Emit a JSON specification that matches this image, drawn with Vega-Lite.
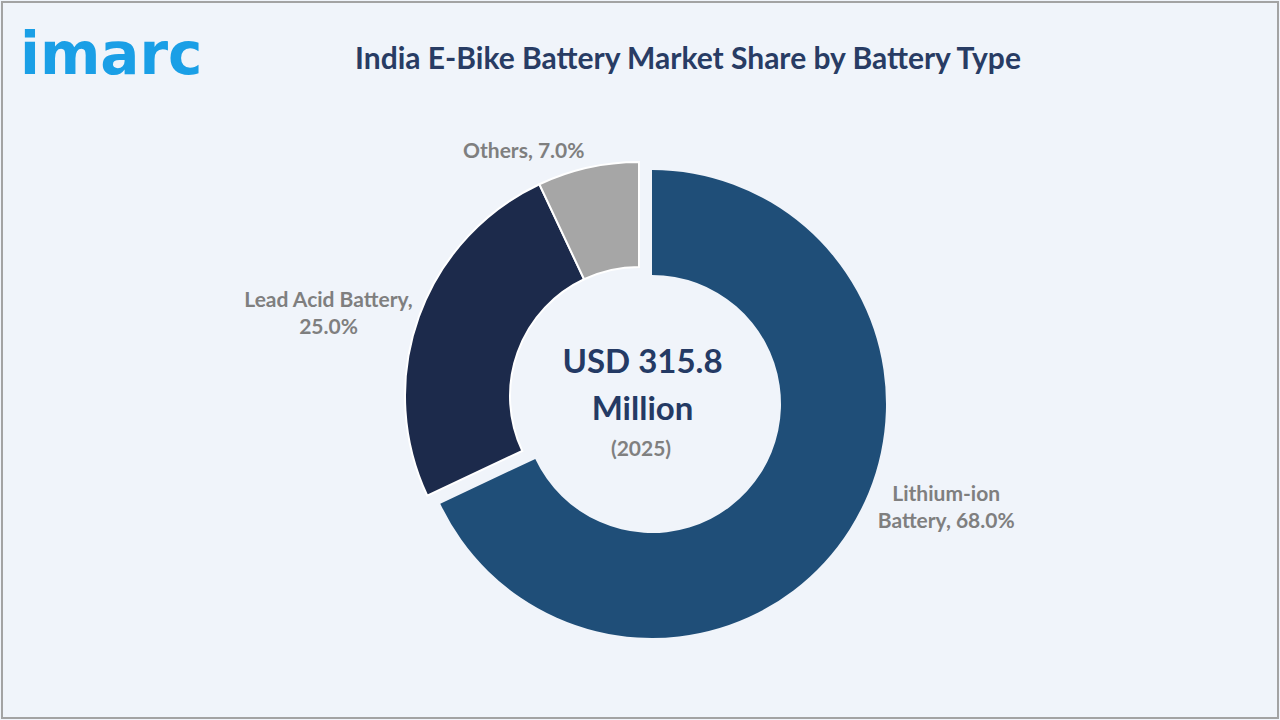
{
  "$schema": "https://vega.github.io/schema/vega-lite/v6.json",
  "width": 1276,
  "height": 716,
  "padding": 2,
  "autosize": {"type": "none"},
  "background": "#f0f4fa",
  "view": {"stroke": "#a3a3a3", "strokeWidth": 2, "fill": "#f0f4fa", "cursor": "default"},
  "config": {
    "style": {"cell": {"stroke": "#a3a3a3", "strokeWidth": 2}},
    "font": "Lato"
  },
  "title": {
    "text": "India E-Bike Battery Market Share by Battery Type",
    "anchor": "middle",
    "dx": 48,
    "dy": 78,
    "fontSize": 30,
    "fontWeight": "bold",
    "color": "#283c64",
    "font": "Lato"
  },
  "data": {
    "values": [
      {"type": "Lithium-ion Battery", "share": 68.0, "label": "Lithium-ion\nBattery, 68.0%"},
      {"type": "Lead Acid Battery", "share": 25.0, "label": "Lead Acid Battery,\n25.0%"},
      {"type": "Others", "share": 7.0, "label": "Others, 7.0%"}
    ]
  },
  "layer": [
    {
      "mark": {"type": "arc", "innerRadius": 129, "outerRadius": 234, "xOffset": -1, "yOffset": 36, "stroke": "#ffffff", "strokeWidth": 2},
      "encoding": {
        "theta": {"field": "share", "type": "quantitative", "stack": true},
        "order": {"field": "share", "sort": "descending"},
        "color": {
          "field": "type", "type": "nominal", "legend": null,
          "scale": {"domain": ["Lithium-ion Battery", "Lead Acid Battery", "Others"], "range": ["#1f4e78", "#1c2a4b", "#a6a6a6"]}
        },
        "opacity": {"condition": {"test": "datum.type === 'Lithium-ion Battery'", "value": 0}, "value": 1}
      }
    },
    {
      "mark": {"type": "arc", "innerRadius": 129, "outerRadius": 234, "xOffset": 12, "yOffset": 44},
      "encoding": {
        "theta": {"field": "share", "type": "quantitative", "stack": true},
        "order": {"field": "share", "sort": "descending"},
        "color": {
          "field": "type", "type": "nominal", "legend": null,
          "scale": {"domain": ["Lithium-ion Battery", "Lead Acid Battery", "Others"], "range": ["#1f4e78", "#1c2a4b", "#a6a6a6"]}
        },
        "opacity": {"condition": {"test": "datum.type === 'Lithium-ion Battery'", "value": 1}, "value": 0}
      }
    },
    {
      "mark": {"type": "text", "radius": 250, "xOffset": -1, "yOffset": 36, "align": "right", "baseline": "middle", "fontSize": 21, "fontWeight": "bold", "color": "#7f7f7f"},
      "encoding": {
        "theta": {"field": "share", "type": "quantitative", "stack": true},
        "order": {"field": "share", "sort": "descending"},
        "text": {"condition": {"test": "datum.type === 'Others'", "field": "label"}, "value": ""}
      }
    },
    {
      "mark": {"type": "text", "radius": 330, "xOffset": -1, "yOffset": 36, "dy": 17, "align": "center", "baseline": "middle", "lineBreak": "\n", "lineHeight": 27, "fontSize": 21, "fontWeight": "bold", "color": "#7f7f7f"},
      "encoding": {
        "theta": {"field": "share", "type": "quantitative", "stack": true},
        "order": {"field": "share", "sort": "descending"},
        "text": {"condition": {"test": "datum.type === 'Lead Acid Battery'", "field": "label"}, "value": ""}
      }
    },
    {
      "mark": {"type": "text", "radius": 320, "xOffset": -1, "yOffset": 36, "dx": 37, "dy": -72, "align": "center", "baseline": "middle", "lineBreak": "\n", "lineHeight": 27, "fontSize": 21, "fontWeight": "bold", "color": "#7f7f7f"},
      "encoding": {
        "theta": {"field": "share", "type": "quantitative", "stack": true},
        "order": {"field": "share", "sort": "descending"},
        "text": {"condition": {"test": "datum.type === 'Lithium-ion Battery'", "field": "label"}, "value": ""}
      }
    },
    {
      "data": {"values": [{"total": "USD 315.8\nMillion", "year": "(2025)"}]},
      "mark": {"type": "text", "xOffset": 2.5, "yOffset": 13, "align": "center", "baseline": "alphabetic", "lineBreak": "\n", "lineHeight": 47, "fontSize": 33, "fontWeight": "bold", "color": "#243a64"},
      "encoding": {"text": {"field": "total"}}
    },
    {
      "data": {"values": [{"total": "USD 315.8\nMillion", "year": "(2025)"}]},
      "mark": {"type": "text", "xOffset": 1, "yOffset": 96, "align": "center", "baseline": "alphabetic", "fontSize": 21, "fontWeight": "bold", "color": "#808080"},
      "encoding": {"text": {"field": "year"}}
    },
    {
      "data": {"values": [{"brand": "imarc"}]},
      "mark": {"type": "text", "x": 18, "y": 72, "align": "left", "baseline": "alphabetic", "fontSize": 58, "fontWeight": "bold", "color": "#1a9fe6", "font": "DejaVu Sans"},
      "encoding": {"text": {"field": "brand"}}
    }
  ]
}
